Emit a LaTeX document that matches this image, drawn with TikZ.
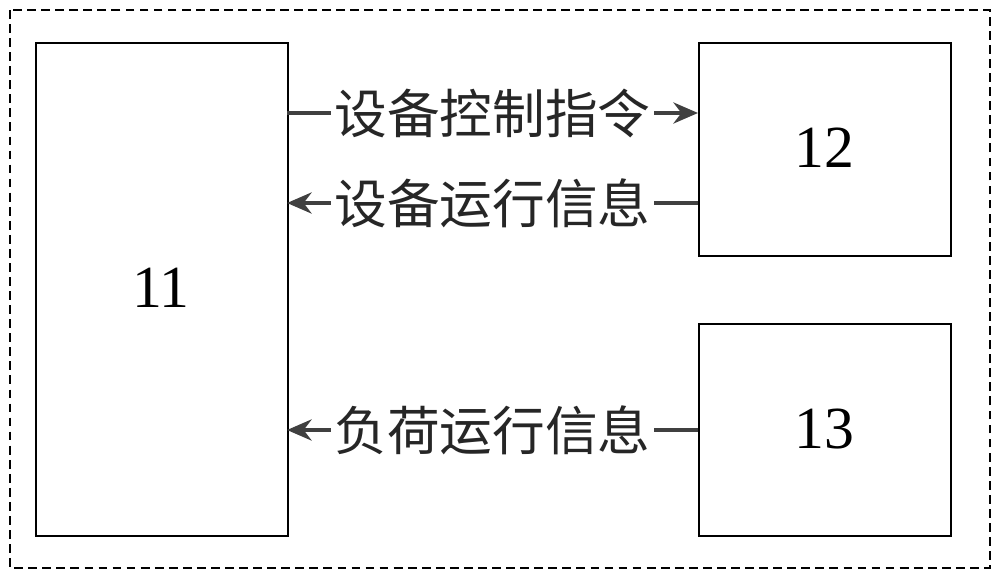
\documentclass[tikz,border=0pt]{standalone}
\usepackage{fontspec}
\setmainfont{Liberation Serif}
\newfontfamily\cjk{Noto Sans CJK SC}
\usetikzlibrary{arrows.meta}
\begin{document}
\begin{tikzpicture}[x=0.02cm,y=-0.02cm,
  blk/.style={draw,line width=1pt,anchor=north west,inner sep=0},
  con/.style={draw=black!75,line width=2.2pt,-{Stealth[length=14pt,width=12pt]}},
  lbl/.style={fill=white,inner sep=2pt,font=\cjk\fontsize{30pt}{31pt}\selectfont,text=black!85}]
\useasboundingbox (0,0) rectangle (1000,581);
\draw[dash pattern=on 5pt off 3pt,line width=0.9pt] (10,10) rectangle (990,568);
\node[blk,minimum width=252*0.02cm,minimum height=493*0.02cm] (a) at (35,42) {};
\node[font=\fontsize{34pt}{36pt}\selectfont] at (161,288) {11};
\node[blk,minimum width=252*0.02cm,minimum height=213*0.02cm] (b) at (698,42) {};
\node[font=\fontsize{34pt}{36pt}\selectfont] at (824,148) {12};
\node[blk,minimum width=252*0.02cm,minimum height=212*0.02cm] (c) at (698,323) {};
\node[font=\fontsize{34pt}{36pt}\selectfont] at (824,429) {13};
\coordinate (a1) at (287,113); \coordinate (b1) at (698,113);
\coordinate (a2) at (287,203); \coordinate (b2) at (698,203);
\coordinate (a3) at (287,430); \coordinate (c3) at (698,430);
\draw[con] (a1) -- node[lbl]{设备控制指令} (b1);
\draw[con] (b2) -- node[lbl]{设备运行信息} (a2);
\draw[con] (c3) -- node[lbl]{负荷运行信息} (a3);
\end{tikzpicture}
\end{document}
